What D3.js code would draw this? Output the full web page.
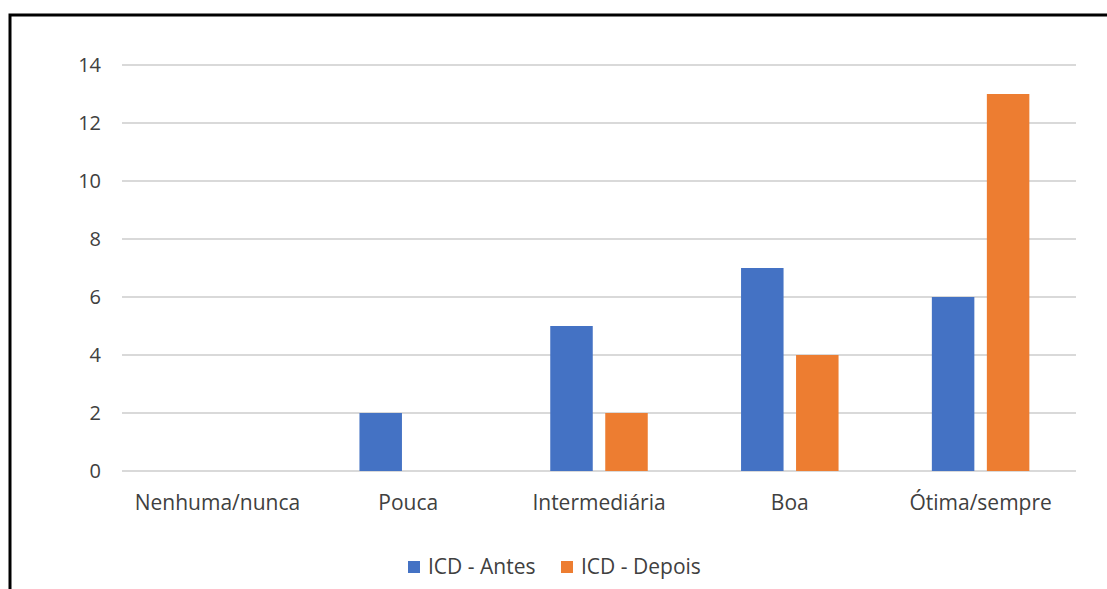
<!DOCTYPE html>
<html>
<head>
<meta charset="utf-8">
<script src="https://cdn.jsdelivr.net/npm/d3@7"></script>
<style>
  body { margin: 0; background: #fff; }
  svg { display: block; font-family: "Open Sans", "Noto Sans", sans-serif; }
</style>
</head>
<body>
<div id="chart"></div>
<script>
// data
var categories = ["Nenhuma/nunca", "Pouca", "Intermediária", "Boa", "Ótima/sempre"];
var seriesNames = ["ICD - Antes", "ICD - Depois"];
var antes = [0, 2, 5, 7, 6];
var depois = [0, 0, 2, 4, 13];
var yTicks = [0, 2, 4, 6, 8, 10, 12, 14];
var colors = ["#4472C4", "#ED7D31"];

var width = 1107, height = 589;
var margin = {top: 65, right: 31, bottom: 118, left: 122};
var plotW = width - margin.left - margin.right,
    plotH = height - margin.top - margin.bottom;

var svg = d3.select("#chart")
  .append("svg")
    .attr("width", width)
    .attr("height", height);

// outer frame (left + top visible)
svg.append("path")
  .attr("d", "M10," + height + " V15 H" + width)
  .attr("fill", "none")
  .attr("stroke", "#000")
  .attr("stroke-width", 3);

var g = svg.append("g")
  .attr("transform", "translate(" + margin.left + "," + margin.top + ")");

var x = d3.scaleBand()
  .domain(categories)
  .range([0, plotW]);

var y = d3.scaleLinear()
  .domain([0, 14])
  .range([plotH, 0]);

// gridlines
g.selectAll(".grid")
  .data(yTicks)
  .enter()
  .append("line")
    .attr("x1", 0)
    .attr("x2", plotW)
    .attr("y1", d => y(d))
    .attr("y2", d => y(d))
    .attr("stroke", "#d9d9d9")
    .attr("stroke-width", 2);

// y axis labels
var yAxis = g.append("g")
  .attr("transform", "translate(-21,0)")
  .call(d3.axisLeft(y).tickValues(yTicks).tickSize(0).tickPadding(0));
yAxis.select(".domain").remove();
yAxis.selectAll("text")
  .style("font-family", "'Open Sans', sans-serif")
  .style("font-size", "20px")
  .attr("fill", "#404040");

// x axis labels
var xAxis = g.append("g")
  .attr("transform", "translate(0," + plotH + ")")
  .call(d3.axisBottom(x).tickSize(0).tickPadding(24));
xAxis.select(".domain").remove();
xAxis.selectAll("text")
  .style("font-family", "'Open Sans', sans-serif")
  .style("font-size", "21px")
  .attr("fill", "#404040");

// bars
var barW = 42.5, gap = 12.5;
var series = [antes, depois];
series.forEach(function(vals, si) {
  g.selectAll(".bar" + si)
    .data(categories)
    .enter()
    .append("rect")
      .attr("x", (d) => x(d) + x.bandwidth() / 2 + (si === 0 ? -gap / 2 - barW : gap / 2))
      .attr("y", (d, i) => y(vals[i]))
      .attr("width", barW)
      .attr("height", (d, i) => plotH - y(vals[i]))
      .attr("fill", colors[si]);
});

// legend
var legendX = [408, 561];
var legend = svg.append("g");
seriesNames.forEach(function(name, i) {
  legend.append("rect")
    .attr("x", legendX[i])
    .attr("y", 561)
    .attr("width", 12)
    .attr("height", 12)
    .attr("fill", colors[i]);
  legend.append("text")
    .attr("x", legendX[i] + 20)
    .attr("y", 567)
    .attr("dy", "0.35em")
    .style("font-size", "21px")
    .attr("fill", "#404040")
    .text(name);
});
</script>
</body>
</html>
